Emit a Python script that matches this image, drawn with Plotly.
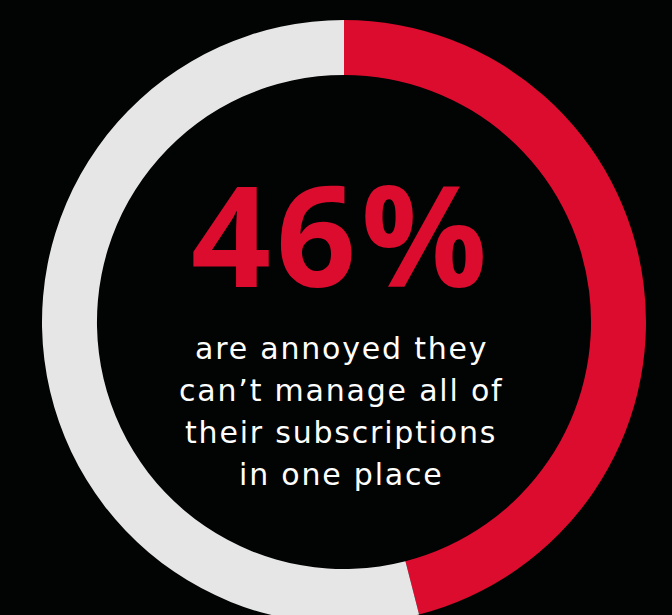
import plotly.graph_objects as go

# Share of respondents annoyed vs. the rest
labels = ["Annoyed", "Other"]
values = [46, 54]
slice_colors = ["#DC0C2E", "#E6E6E6"]

headline = "46%"
caption_lines = [
    "are annoyed they",
    "can\u2019t manage all of",
    "their subscriptions",
    "in one place",
]

W, H = 672, 633
BG = "#020303"


def py(px):
    """Convert a pixel offset from the top into paper y."""
    return (H - px) / H


def tracked(text, spacing):
    """Wrap text in a span with extra letter spacing."""
    return f'<span style="letter-spacing:{spacing}px">{text}</span>'


fig = go.Figure(
    go.Pie(
        labels=labels,
        values=values,
        hole=0.818,
        sort=False,
        direction="clockwise",
        rotation=0,
        marker=dict(colors=slice_colors, line=dict(width=0)),
        textinfo="none",
        hoverinfo="skip",
        showlegend=False,
        domain=dict(x=[42 / W, 646 / W], y=[py(624), py(20)]),
    )
)

annotations = [
    dict(
        text=f"<b>{tracked(headline, 5)}</b>",
        x=341 / W, y=py(232),
        xref="paper", yref="paper",
        xanchor="center", yanchor="middle",
        showarrow=False,
        font=dict(family="Open Sans", size=140, color=slice_colors[0], weight=800),
    )
]
for i, line in enumerate(caption_lines):
    annotations.append(
        dict(
            text=tracked(line, 1.8),
            x=341 / W, y=py(348.9 + i * 41.7),
            xref="paper", yref="paper",
            xanchor="center", yanchor="middle",
            showarrow=False,
            font=dict(family="DejaVu Sans", size=30, color="#FFFFFF"),
        )
    )

fig.update_layout(
    width=W,
    height=H,
    margin=dict(l=0, r=0, t=0, b=0),
    paper_bgcolor=BG,
    plot_bgcolor=BG,
    annotations=annotations,
)

fig.write_html("out.html", post_script="document.body.style.overflow='hidden';")
